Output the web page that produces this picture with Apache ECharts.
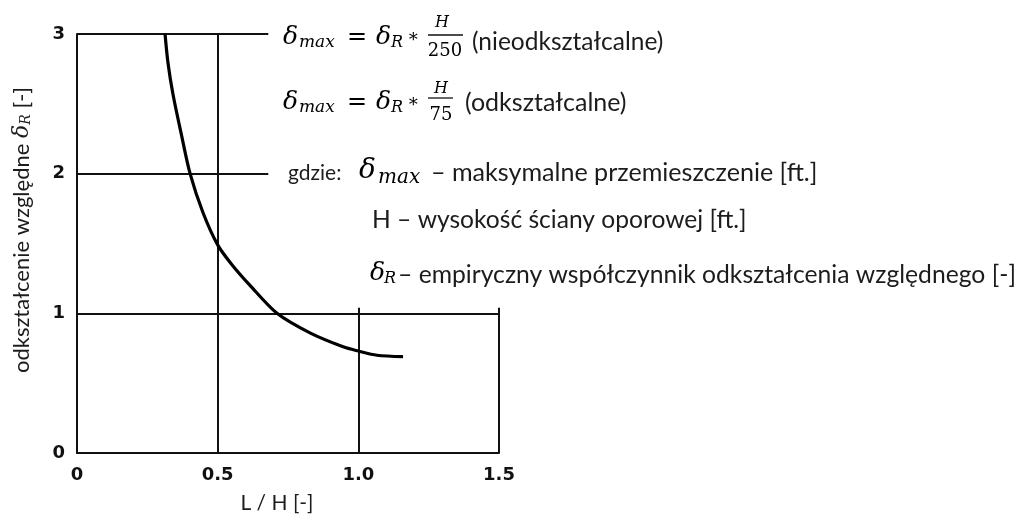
<!DOCTYPE html>
<html>
<head>
<meta charset="utf-8">
<script src="https://cdn.jsdelivr.net/npm/echarts@6/dist/echarts.min.js"></script>
<style>
  html, body { margin: 0; padding: 0; background: #fff; }
  #chart { width: 1019px; height: 516px; }
</style>
</head>
<body>
<div id="chart"></div>
<script>
// krzywa delta_R w funkcji L/H
const curveX = [0.313, 0.323, 0.341, 0.370, 0.402, 0.448, 0.50, 0.55, 0.615, 0.711, 0.828, 0.946, 1.0, 1.066, 1.159];
const curveY = [3.0, 2.80, 2.57, 2.29, 2.0, 1.72, 1.49, 1.35, 1.20, 1.00, 0.86, 0.76, 0.73, 0.70, 0.69];

// linie siatki: [y, x od, x do] i [x, y od, y do]
const hLines = [[3, 0, 0.68], [2, 0, 0.68], [1, 0, 1.5]];
const vLines = [[0.5, 0, 3], [1.0, 0, 1.04], [1.5, 0, 1.04]];

// opisy osi
const xTicks = { 0: '0', 0.5: '0.5', 1: '1.0', 1.5: '1.5' };
const yTicks = { 0: '0', 1: '1', 2: '2', 3: '3' };

const SANS = 'Lato';
const MATH = 'DejaVu Serif';
const TXT = '#1c1c1c';

// pomocnik do tekstow
function t(x, y, text, size, opts) {
  opts = opts || {};
  return {
    type: 'text', x: x, y: y, z: 10,
    style: {
      text: text,
      fontFamily: opts.family || SANS,
      fontSize: size,
      fontStyle: opts.italic ? 'italic' : 'normal',
      fill: opts.fill || TXT,
      align: opts.align || 'left',
      verticalAlign: 'middle'
    }
  };
}
function bar(x1, x2, y) {
  return { type: 'line', z: 10, shape: { x1: x1, y1: y, x2: x2, y2: y }, style: { stroke: '#111', lineWidth: 1.3 } };
}
// delta z indeksem dolnym
function delta(x, y, sub, size, subSize, gap) {
  return [
    t(x, y, 'δ', size, { family: MATH, italic: true, fill: '#000' }),
    t(x + gap, y + size * 0.24, sub, subSize, { family: MATH, italic: true, fill: '#000' })
  ];
}

const graphics = [].concat(
  // rownanie 1
  delta(283, 37, 'max', 25, 17, 16),
  [t(347, 38, '=', 24, { family: MATH, fill: '#000' })],
  delta(376, 37, 'R', 25, 16, 15),
  [t(407, 37, '∗', 18, { family: MATH, fill: '#000' }),
   t(442, 23, 'H', 16, { family: MATH, italic: true, fill: '#000', align: 'center' }),
   bar(428, 463, 35),
   t(445, 51, '250', 18, { family: MATH, fill: '#000', align: 'center' }),
   t(472, 42, '(nieodkształcalne)', 24.5)],
  // rownanie 2
  delta(283, 102, 'max', 25, 17, 16),
  [t(347, 103, '=', 24, { family: MATH, fill: '#000' })],
  delta(376, 102, 'R', 25, 16, 15),
  [t(407, 102, '∗', 18, { family: MATH, fill: '#000' }),
   t(441, 89, 'H', 16, { family: MATH, italic: true, fill: '#000', align: 'center' }),
   bar(428, 453, 98),
   t(441, 115, '75', 18, { family: MATH, fill: '#000', align: 'center' }),
   t(465, 103, '(odkształcalne)', 25)],
  // legenda oznaczen
  [t(288, 173, 'gdzie:', 21)],
  delta(359, 171, 'max', 28, 20, 19),
  [t(431, 173, '– maksymalne przemieszczenie [ft.]', 25.1),
   t(372, 220, 'H – wysokość ściany oporowej [ft.]', 24.6)],
  delta(370, 273, 'R', 25, 16, 14),
  [t(398, 275, '– empiryczny współczynnik odkształcenia względnego [-]', 24.7)],
  // nazwy osi
  [t(277, 503, 'L / H [-]', 21, { align: 'center' }),
   {
     type: 'text', x: 22, y: 230, rotation: Math.PI / 2, z: 10,
     style: {
       text: 'odkształcenie względne {d|δ}{s|R} [-]',
       fontFamily: SANS, fontSize: 22, fill: TXT,
       align: 'center', verticalAlign: 'middle',
       rich: {
         d: { fontFamily: MATH, fontStyle: 'italic', fontSize: 22, fill: TXT },
         s: { fontFamily: MATH, fontStyle: 'italic', fontSize: 14, fill: TXT, padding: [9, 0, 0, 0] }
       }
     }
   }]
);

const gridSegs = hLines.map(h => ({ coords: [[h[1], h[0]], [h[2], h[0]]] }))
  .concat(vLines.map(v => ({ coords: [[v[0], v[1]], [v[0], v[2]]] })));

const chart = echarts.init(document.getElementById('chart'), null, { renderer: 'canvas' });
chart.setOption({
  animation: false,
  backgroundColor: '#fff',
  grid: { left: 77, right: 520, top: 34, bottom: 63, outerBoundsMode: 'none' },
  xAxis: {
    type: 'value', min: 0, max: 1.5, interval: 0.5,
    axisLine: { show: true, onZero: false, lineStyle: { color: '#111', width: 2 } },
    axisTick: { show: false },
    splitLine: { show: false },
    axisLabel: {
      margin: 13, color: '#111', fontFamily: 'DejaVu Sans', fontWeight: 'bold', fontSize: 18,
      formatter: v => xTicks[v]
    }
  },
  yAxis: {
    type: 'value', min: 0, max: 3, interval: 1,
    axisLine: { show: true, onZero: false, lineStyle: { color: '#111', width: 2 } },
    axisTick: { show: false },
    splitLine: { show: false },
    axisLabel: {
      margin: 12, color: '#111', fontFamily: 'DejaVu Sans', fontWeight: 'bold', fontSize: 18,
      formatter: v => yTicks[v]
    }
  },
  series: [
    {
      type: 'lines',
      coordinateSystem: 'cartesian2d',
      data: gridSegs,
      lineStyle: { color: '#111', width: 2, opacity: 1 },
      silent: true,
      z: 2
    },
    {
      type: 'line',
      data: curveX.map((x, i) => [x, curveY[i]]),
      showSymbol: false,
      smooth: 0.3,
      lineStyle: { color: '#000', width: 3.2 },
      z: 3
    }
  ],
  graphic: graphics
});
</script>
</body>
</html>
